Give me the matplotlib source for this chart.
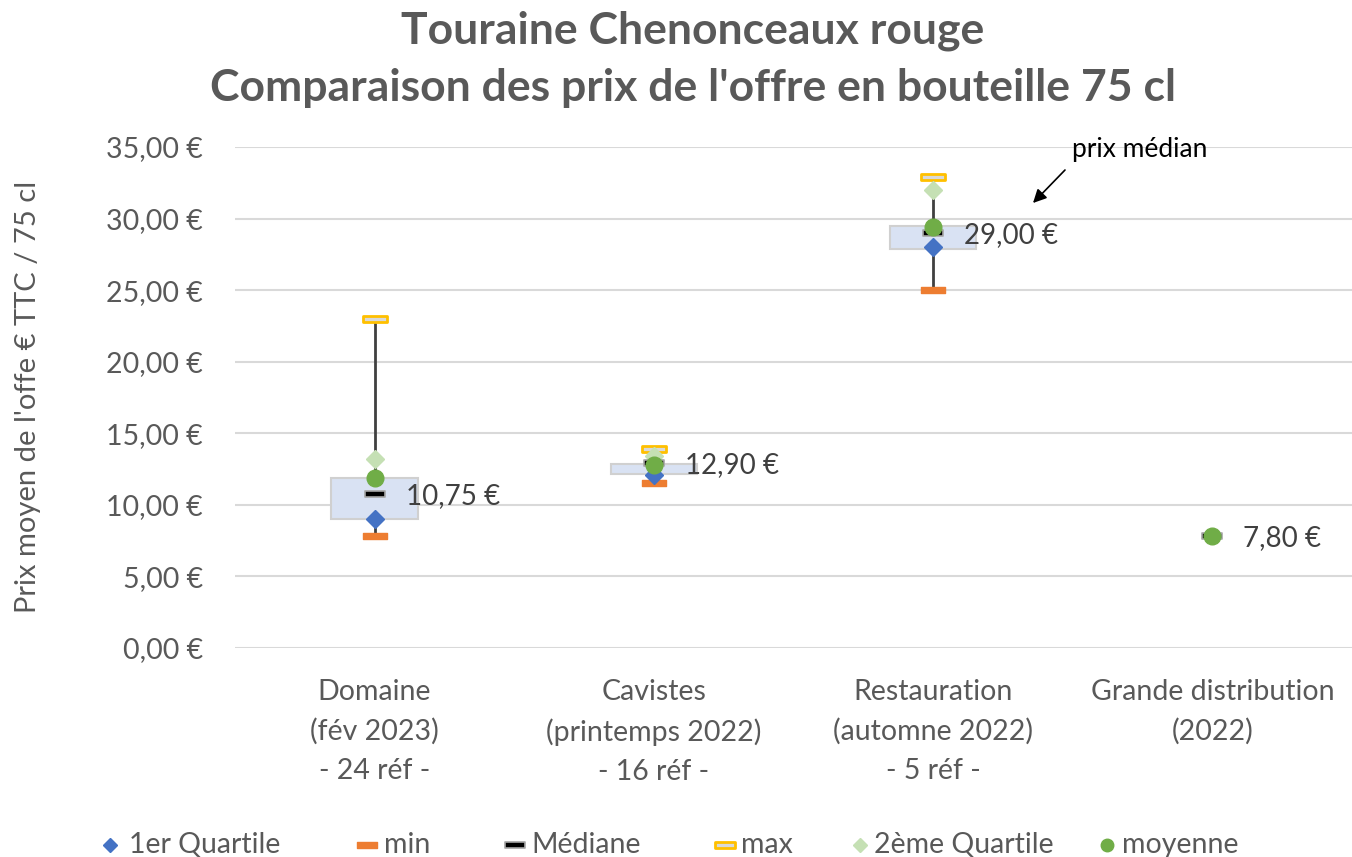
import matplotlib
matplotlib.use("Agg")
import matplotlib.pyplot as plt
from matplotlib.path import Path
import numpy as np

plt.rcParams['font.family'] = ['Lato', 'DejaVu Sans']

categories = ["Domaine\n(fév 2023)\n- 24 réf -",
              "Cavistes\n(printemps 2022)\n- 16 réf -",
              "Restauration\n(automne 2022)\n- 5 réf -",
              "Grande distribution\n(2022)"]
q1 = [9.0, 12.1, 28.0, np.nan]
vmin = [7.8, 11.55, 25.0, np.nan]
mediane = [10.75, 12.9, 29.0, 7.8]
vmax = [23.0, 13.9, 32.9, np.nan]
q2 = [13.2, 13.4, 32.0, np.nan]
moyenne = [11.9, 12.8, 29.4, 7.8]
box_low = [9.0, 12.15, 27.9, np.nan]
box_high = [11.9, 12.85, 29.45, np.nan]
labels = ["10,75 €", "12,90 €", "29,00 €", "7,80 €"]
yticks = [0, 5, 10, 15, 20, 25, 30, 35]
legend_names = ["1er Quartile", "min", "Médiane", "max", "2ème Quartile", "moyenne"]

W, H = 1352, 857
fig = plt.figure(figsize=(W/100, H/100), dpi=100)
ax = fig.add_axes([235/W, (H-648)/H, (1352-235)/W, (648-147)/H])
x = np.arange(len(categories))
ax.set_xlim(-0.5, 3.5)
ax.set_ylim(0, 35)

for t in yticks:
    ax.axhline(t, color='#D9D9D9', lw=1.5, zorder=0)

grey = '#595959'
dash = Path([(-1, -0.28), (1, -0.28), (1, 0.28), (-1, 0.28), (-1, -0.28)],
            [Path.MOVETO, Path.LINETO, Path.LINETO, Path.LINETO, Path.CLOSEPOLY])

styles = {
    "q1": dict(marker='D', ms=9.5, mfc='#4472C4', mec='#4472C4', mew=1),
    "min": dict(marker=dash, ms=17, mfc='#ED7D31', mec='#ED7D31', mew=1),
    "med": dict(marker=dash, ms=15, mfc='#000000', mec='#A6A6A6', mew=1.2),
    "max": dict(marker=dash, ms=17, mfc='#D9D9D9', mec='#FFC000', mew=2),
    "q2": dict(marker='D', ms=9.5, mfc='#C5E0B4', mec='#C5E0B4', mew=1),
    "moy": dict(marker='o', ms=12, mfc='#70AD47', mec='#70AD47', mew=1),
}

# whiskers
for i in x:
    if not np.isnan(vmin[i]):
        ax.plot([i, i], [vmin[i], vmax[i]], color='#404040', lw=2, zorder=1)
# boxes
bl = np.array(box_low); bh = np.array(box_high)
ax.bar(x, bh - bl, bottom=bl, width=0.31, color='#D9E2F3', edgecolor='#D0D0D0', lw=1.5, zorder=2)

ax.plot(x, vmin, ls='none', zorder=3, **styles["min"])
ax.plot(x, vmax, ls='none', zorder=3, **styles["max"])
ax.plot(x, q1, ls='none', zorder=4, **styles["q1"])
ax.plot(x, q2, ls='none', zorder=4, **styles["q2"])
ax.plot(x, mediane, ls='none', zorder=5, **styles["med"])
ax.plot(x, moyenne, ls='none', zorder=6, **styles["moy"])

for i in x:
    ax.annotate(labels[i], (i, mediane[i]), xytext=(31, -2), textcoords='offset pixels',
                ha='left', va='center', fontsize=20, color='#404040')

ax.set_yticks(yticks)
ax.set_yticklabels([f"{t:.2f}".replace('.', ',') + " €" for t in yticks], fontsize=20.5, color=grey)
ax.set_xticks(x)
ax.set_xticklabels(categories, fontsize=20.5, color=grey, linespacing=1.62)
ax.tick_params(axis='y', length=0, pad=23)
ax.tick_params(axis='x', length=0, pad=22)
for s in ax.spines.values():
    s.set_visible(False)

# overlay in pixel coordinates (y from top)
ov = fig.add_axes([0, 0, 1, 1], facecolor='none')
ov.set_xlim(0, W); ov.set_ylim(H, 0); ov.axis('off')

ov.text(28, 397, "Prix moyen de l'offe € TTC / 75 cl", rotation=90, ha='center', va='center',
        fontsize=21, color=grey)
ov.text(W/2 + 17, 31, "Touraine Chenonceaux rouge", ha='center', va='center',
        fontsize=32, fontweight='bold', color=grey)
ov.text(W/2 + 17, 88, "Comparaison des prix de l'offre en bouteille 75 cl", ha='center', va='center',
        fontsize=32, fontweight='bold', color=grey)

ov.text(1072, 149, "prix médian", ha='left', va='center', fontsize=19, color='black')
ov.annotate("", xy=(1033, 203), xytext=(1065, 170),
            arrowprops=dict(arrowstyle='-|>', color='black', lw=1.2, mutation_scale=20,
                            shrinkA=0, shrinkB=0))

leg_marker_x = [110, 367, 515, 725, 860, 1107]
leg_text_x = [129, 384, 531, 741, 874, 1122]
leg_keys = ["q1", "min", "med", "max", "q2", "moy"]
leg_y = 845
for mx, tx, k, nm in zip(leg_marker_x, leg_text_x, leg_keys, legend_names):
    st = dict(styles[k])
    if k in ("min", "med", "max"):
        st["ms"] = 14
    elif k == "moy":
        st["ms"] = 9
    else:
        st["ms"] = 7
    ov.plot([mx], [leg_y], ls='none', clip_on=False, **st)
    ov.text(tx, leg_y, nm, ha='left', va='center', fontsize=20.5, color=grey)

fig.savefig("out.png", dpi=100)
